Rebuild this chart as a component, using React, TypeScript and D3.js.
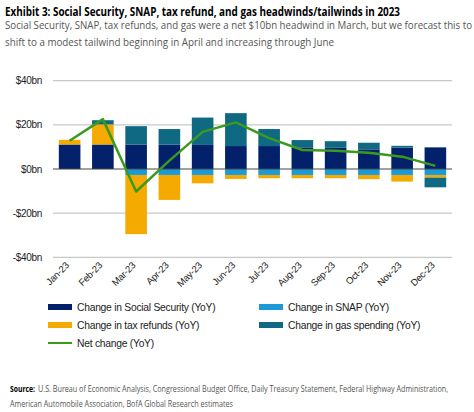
import React from "react";
import * as d3 from "d3";

const months = ["Jan-23","Feb-23","Mar-23","Apr-23","May-23","Jun-23","Jul-23","Aug-23","Sep-23","Oct-23","Nov-23","Dec-23"];
const socialSecurity = [11.1, 11.1, 11.1, 11.0, 10.9, 10.4, 10.4, 9.8, 9.6, 8.9, 9.7, 9.8];
const snap = [0, 0, -2.7, -2.7, -2.7, -2.7, -2.7, -2.7, -2.7, -2.7, -2.7, -2.7];
const taxRefunds = [2.1, 9.1, -26.8, -11.3, -3.8, -1.8, -1.5, -1.5, -1.5, -1.9, -3.0, -1.2];
const gasSpending = [0, 1.9, 8.3, 7.1, 12.4, 14.9, 7.7, 3.3, 3.0, 3.0, 0.8, -4.4];
const netChange = [12.8, 22.6, -10.2, 3.8, 16.8, 21.1, 14.0, 8.6, 8.3, 7.4, 5.6, 1.4];
const yTicks = [40, 20, 0, -20, -40];
const yTickLabels = ["$40bn", "$20bn", "$0bn", "-$20bn", "-$40bn"];
const seriesKeys = ["ss", "snap", "tax", "gas"];
const seriesNames = ["Change in Social Security (YoY)", "Change in SNAP (YoY)", "Change in tax refunds (YoY)", "Change in gas spending (YoY)"];
const lineName = "Net change (YoY)";

const colors: Record<string, string> = {
  ss: "#03216b",
  snap: "#1c9ad8",
  tax: "#f4aa00",
  gas: "#0f6983",
};
const lineColor = "#3b9a1e";

export default function App() {
  const x = d3.scaleBand<string>().domain(months).range([53, 452]).paddingInner(0.35).paddingOuter(0.175);
  const y = d3.scaleLinear().domain([-40, 40]).range([257.3, 80.7]);

  const rows = months.map((m, i) => ({
    month: m,
    ss: socialSecurity[i],
    snap: snap[i],
    tax: taxRefunds[i],
    gas: gasSpending[i],
  }));
  const stack = d3.stack<any>().keys(seriesKeys).offset(d3.stackOffsetDiverging);
  const stacked = stack(rows);

  const line = d3
    .line<number>()
    .x((_, i) => (x(months[i]) as number) + x.bandwidth() / 2)
    .y((d) => y(d));

  const font = "'Liberation Sans', Arial, sans-serif";
  const headFont = "'Open Sans', 'Liberation Sans', sans-serif";

  const legendItems = [
    { key: "ss", x: 48, y: 307, label: seriesNames[0] },
    { key: "snap", x: 259, y: 307, label: seriesNames[1] },
    { key: "tax", x: 48, y: 325, label: seriesNames[2] },
    { key: "gas", x: 259, y: 325, label: seriesNames[3] },
  ];

  return (
    <svg width={474} height={412} style={{ position: "absolute", left: 0, top: 0, background: "#fff" }}>
      <text x={5} y={15.5} fontFamily={headFont} fontWeight={700} fontSize={12.5} fill="#000" textLength={395} lengthAdjust="spacingAndGlyphs">
        Exhibit 3: Social Security, SNAP, tax refund, and gas headwinds/tailwinds in 2023
      </text>
      <text x={5} y={29} fontFamily={headFont} fontSize={10.5} fill="#555" textLength={467} lengthAdjust="spacingAndGlyphs">
        Social Security, SNAP, tax refunds, and gas were a net $10bn headwind in March, but we forecast this to
      </text>
      <text x={5} y={46} fontFamily={headFont} fontSize={10.5} fill="#555" textLength={329} lengthAdjust="spacingAndGlyphs">
        shift to a modest tailwind beginning in April and increasing through June
      </text>

      {yTicks.map((t, i) => (
        <g key={t}>
          {t !== 0 && <line x1={53} x2={452} y1={y(t)} y2={y(t)} stroke="#c8c8c8" strokeWidth={1.3} />}
          <text x={42} y={y(t)} dy="0.35em" textAnchor="end" fontFamily={font} fontSize={10} fill="#222" letterSpacing={-0.3}>
            {yTickLabels[i]}
          </text>
        </g>
      ))}

      {stacked.map((s) => (
        <g key={s.key} fill={colors[s.key]}>
          {s.map((d, i) => {
            const h = Math.abs(y(d[0]) - y(d[1]));
            if (h < 0.01) return null;
            return (
              <rect
                key={i}
                x={x(months[i])}
                width={x.bandwidth()}
                y={Math.min(y(d[0]), y(d[1]))}
                height={h}
              />
            );
          })}
        </g>
      ))}

      <line x1={53} x2={452} y1={y(0)} y2={y(0)} stroke="#444" strokeWidth={1} />

      <path d={line(netChange) || ""} fill="none" stroke={lineColor} strokeWidth={2.5} strokeLinejoin="round" />

      {months.map((m) => {
        const cx = (x(m) as number) + x.bandwidth() / 2;
        return (
          <text
            key={m}
            transform={`translate(${cx},${266}) rotate(-45)`}
            textAnchor="end"
            fontFamily={font}
            fontSize={9.5}
            fill="#222"
            letterSpacing={-0.2}
          >
            {m}
          </text>
        );
      })}

      {legendItems.map((it) => (
        <g key={it.key}>
          <rect x={it.x} y={it.y - 3} width={24} height={6} fill={colors[it.key]} />
          <text x={it.x + 29} y={it.y} dy="0.35em" fontFamily={font} fontSize={10.3} fill="#222" letterSpacing={-0.25}>
            {it.label}
          </text>
        </g>
      ))}
      <line x1={48} x2={72} y1={343} y2={343} stroke={lineColor} strokeWidth={2} />
      <text x={77} y={343} dy="0.35em" fontFamily={font} fontSize={10.3} fill="#222" letterSpacing={-0.25}>
        {lineName}
      </text>

      <text x={10} y={392} fontFamily={headFont} fontWeight={700} fontSize={8.5} fill="#000" textLength={25} lengthAdjust="spacingAndGlyphs">
        Source:
      </text>
      <text x={38} y={392} fontFamily={headFont} fontSize={8.5} fill="#555" textLength={410} lengthAdjust="spacingAndGlyphs">
        U.S. Bureau of Economic Analysis, Congressional Budget Office, Daily Treasury Statement, Federal Highway Administration,
      </text>
      <text x={10} y={407} fontFamily={headFont} fontSize={8.5} fill="#555" textLength={223} lengthAdjust="spacingAndGlyphs">
        American Automobile Association, BofA Global Research estimates
      </text>
    </svg>
  );
}
